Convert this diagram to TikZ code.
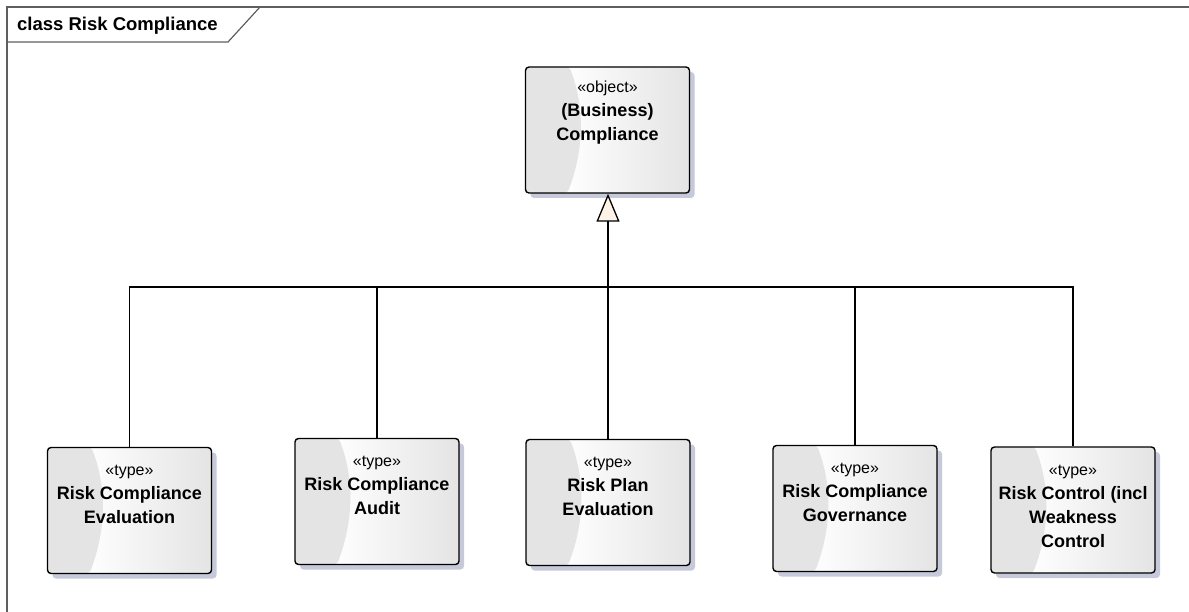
\documentclass[tikz,border=0pt]{standalone}
\usepackage{fontspec}
\setmainfont{Liberation Sans}
\usetikzlibrary{shadows}
\usetikzlibrary{positioning}
\usetikzlibrary{arrows.meta}
\definecolor{boxgray}{RGB}{228,228,228}
\definecolor{shadowblue}{RGB}{197,201,217}
\definecolor{tipfill}{RGB}{253,243,231}
\definecolor{framegray}{RGB}{95,95,95}
\pgfdeclarehorizontalshading{classfill}{100bp}{color(0bp)=(white); color(36bp)=(white); color(75bp)=(boxgray); color(100bp)=(boxgray)}
\newcommand\stereo[1]{{\mdseries\fontsize{16}{24}\selectfont #1}}
\tikzstyle{classbox}=[draw=black, line width=1.4pt, rounded corners=3.5pt, minimum width=164pt, minimum height=126pt, inner sep=0pt, shading=classfill, drop shadow={shadow xshift=5pt, shadow yshift=-5pt, fill=shadowblue, opacity=1}, path picture={\fill[boxgray] ([xshift=44pt]path picture bounding box.north west) .. controls +(16pt,-42pt) and +(16pt,42pt) .. ([xshift=42pt]path picture bounding box.south west) -- (path picture bounding box.south west) -- (path picture bounding box.north west) -- cycle;}]
\tikzstyle{classtext}=[align=center, font=\bfseries\fontsize{18}{24}\selectfont, inner sep=0pt]
\tikzstyle{generalization}=[line width=1.3pt]

\begin{document}
\begin{tikzpicture}[x=1pt, y=-1pt]
\useasboundingbox (0,0) rectangle (1189,612);

%frame
\draw[framegray, line width=1.3pt] (1189,7) -- (7,7) -- (7,612);
\draw[framegray, line width=1.2pt] (7,42) -- (228,42) -- (260,7);
\node[anchor=west, font=\bfseries\fontsize{18.5}{20}\selectfont, inner sep=0pt] (title) at (17,26) {class Risk Compliance};

%parent
\node[classbox] (compliance) at (607.5,130) {};
\node[classtext, below=9.5pt of compliance.north] (compliance-text) {\stereo{\strut«object»}\\(Business)\\Compliance};

\coordinate (join) at (608,287);
\draw[generalization, -{Triangle[open, length=28pt, width=23pt, fill=tipfill]}] (join) -- (join |- compliance.south);

%types
\foreach \pos/\name/\label in {{(129.5,510.5)/evaluation/Risk Compliance\\Evaluation}, {(377,501.5)/audit/Risk Compliance\\Audit}, {(608,502.5)/planevaluation/Risk Plan\\Evaluation}, {(855,508.5)/governance/Risk Compliance\\Governance}, {(1073,510)/control/Risk Control (incl\\Weakness\\Control}}
{
    \node[classbox] (\name) at \pos {};
    \node[classtext, below=12pt of \name.north] (\name-text) {\stereo{\strut«type»}\\\label};
    \draw[generalization] (\name.north) |- (join);
}

\end{tikzpicture}
\end{document}
